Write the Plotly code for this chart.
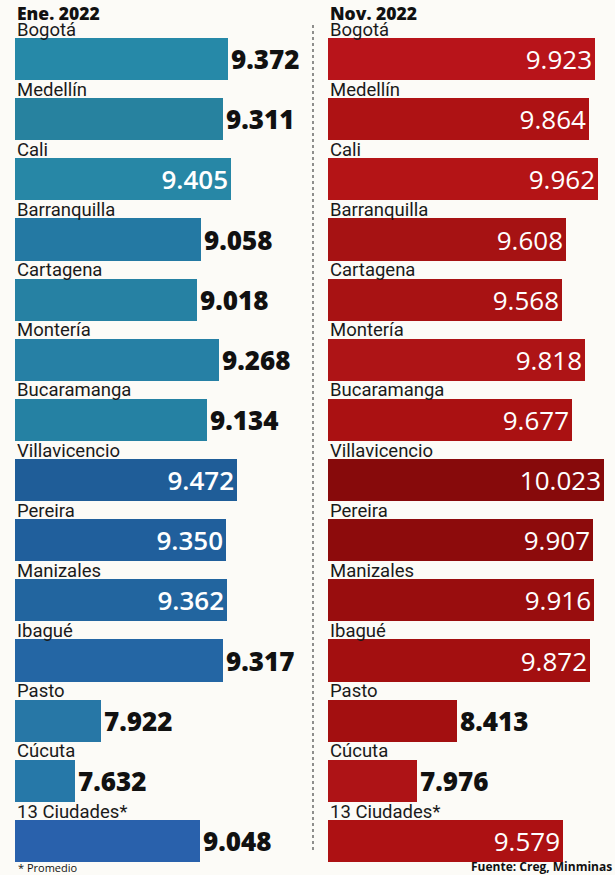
import plotly.graph_objects as go

# ---------------- data ----------------
cities = ["Bogotá", "Medellín", "Cali", "Barranquilla", "Cartagena", "Montería",
          "Bucaramanga", "Villavicencio", "Pereira", "Manizales", "Ibagué",
          "Pasto", "Cúcuta", "13 Ciudades*"]
ene_2022 = [9372, 9311, 9405, 9058, 9018, 9268, 9134, 9472, 9350, 9362, 9317,
            7922, 7632, 9048]
nov_2022 = [9923, 9864, 9962, 9608, 9568, 9818, 9677, 10023, 9907, 9916, 9872,
            8413, 7976, 9579]
panel_titles = ["Ene. 2022", "Nov. 2022"]
footnote = "* Promedio"
source = "Fuente: Creg, Minminas"

# which values are written inside the bar
ene_inside = [False, False, True, False, False, False, False, True, True, True,
              False, False, False, False]
nov_inside = [True] * 11 + [False, False, True]

# ---------------- style ----------------
W, H = 615, 875
blue_cols = ["#2689a8", "#27829f", "#2787a6", "#2479a3", "#2681a3", "#2680a5",
             "#2581a3", "#1f5d98", "#205f9c", "#22659f", "#2466a4", "#2777a6",
             "#2678a8", "#2961ac"]
red_cols = ["#b8141a", "#ae1214", "#b41416", "#a61213", "#a81213", "#ae1416",
            "#aa1112", "#870a0b", "#8d0b0c", "#990d0e", "#a30f10", "#a30f10",
            "#ae1316", "#ad1113"]

idx = list(range(len(cities)))
px_per_row = 60.15
y_first, y_last = 59, 841
y_top = 0 - y_first / px_per_row
y_bot = (len(cities) - 1) + (H - y_last) / px_per_row

fig = go.Figure()


def add_panel(vals, inside, cols, xaxis, yaxis, inside_weight):
    tpos = ["inside" if f else "outside" for f in inside]
    tcol = ["#ffffff" if f else "#111111" for f in inside]
    tw = [inside_weight if f else 800 for f in inside]
    fig.add_trace(go.Bar(
        x=vals, y=idx, orientation="h", width=0.70,
        marker=dict(color=cols, line=dict(width=0)),
        texttemplate="%{x:,.0f}", textposition=tpos,
        insidetextanchor="end", constraintext="none",
        textfont=dict(family="Open Sans", size=26, color=tcol, weight=tw),
        xaxis=xaxis, yaxis=yaxis, hoverinfo="skip", showlegend=False,
    ))


add_panel(ene_2022, ene_inside, blue_cols, "x", "y", 600)
add_panel(nov_2022, nov_inside, red_cols, "x2", "y2", 400)

# axes
l0, l1 = 15 / W, 312 / W
r0, r1 = 328 / W, 608 / W
left_scale = 0.088   # px per unit
right_scale = 0.0912
left_range = [6950, 6950 + (312 - 15) / left_scale]
right_range = [7000, 7000 + (608 - 328) / right_scale]

axis_common = dict(showgrid=False, zeroline=False, showticklabels=False,
                   ticks="", showline=False, fixedrange=True)
fig.update_layout(
    xaxis=dict(domain=[l0, l1], range=left_range, anchor="y", **axis_common),
    yaxis=dict(domain=[0, 1], range=[y_bot, y_top], anchor="x", **axis_common),
    xaxis2=dict(domain=[r0, r1], range=right_range, anchor="y2", **axis_common),
    yaxis2=dict(domain=[0, 1], range=[y_bot, y_top], anchor="x2", **axis_common),
)

annotations = []
# city labels above bars
label_off = -0.49
lab_font = dict(family="Roboto", size=18.5, color="#1a1a1a")
for i, c in enumerate(cities):
    annotations.append(dict(x=left_range[0], y=i + label_off, xref="x", yref="y",
                            text=c, showarrow=False, xanchor="left", yanchor="middle",
                            xshift=1, borderpad=0, font=lab_font))
    annotations.append(dict(x=right_range[0], y=i + label_off, xref="x2", yref="y2",
                            text=c, showarrow=False, xanchor="left", yanchor="middle",
                            xshift=1, borderpad=0, font=lab_font))

# panel titles
for t, x0 in zip(panel_titles, [l0, r0]):
    annotations.append(dict(x=x0, y=1, xref="paper", yref="paper", text=t,
                            showarrow=False, xanchor="left", yanchor="top", xshift=1,
                            borderpad=0,
                            font=dict(family="Open Sans", size=17.5, color="#111111", weight=800)))

annotations.append(dict(x=17 / W, y=1 - 867 / H, xref="paper", yref="paper",
                        text=footnote, showarrow=False, xanchor="left", yanchor="middle",
                        borderpad=0, font=dict(family="Open Sans", size=11, color="#111111")))
annotations.append(dict(x=1 - 2 / W, y=1 - 866 / H, xref="paper", yref="paper",
                        text=source, showarrow=False, xanchor="right", yanchor="middle",
                        borderpad=0,
                        font=dict(family="Open Sans", size=12, color="#111111", weight=700)))

shapes = [dict(type="line", xref="paper", yref="paper", x0=313 / W, x1=313 / W,
               y0=1 - 25 / H, y1=1 - 852 / H,
               line=dict(color="#555555", width=1.3, dash="dot"))]

fig.update_layout(
    width=W, height=H, margin=dict(l=0, r=0, t=0, b=0),
    paper_bgcolor="#fcfbf7", plot_bgcolor="rgba(0,0,0,0)",
    separators=",.", annotations=annotations, shapes=shapes,
    bargap=0,
)

fig.write_html("out.html", config={"displayModeBar": False})
